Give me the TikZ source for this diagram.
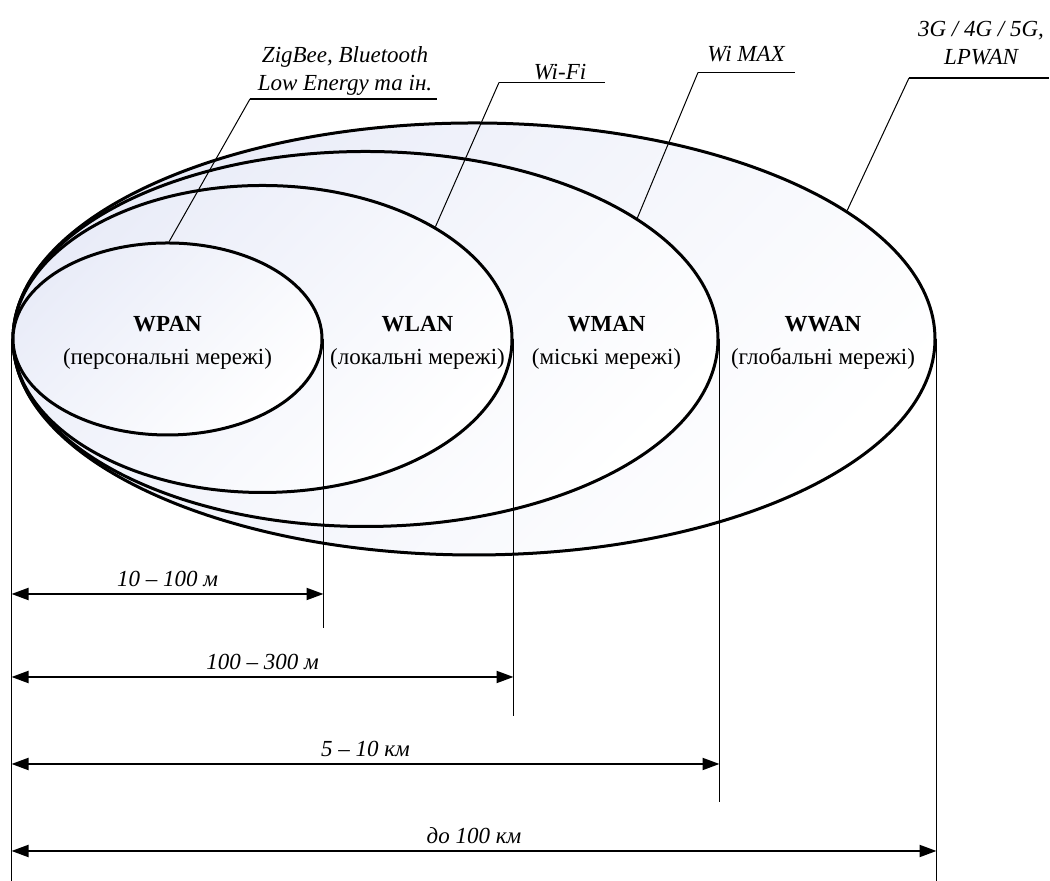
\documentclass[tikz,border=0pt]{standalone}
\usepackage{fontspec}
\setmainfont{Liberation Serif}
\usepackage{tikz}
\usetikzlibrary{arrows.meta,shapes.geometric}
\definecolor{zonefill}{RGB}{233,236,248}

\tikzset{
  zone/.style={ellipse, draw, line width=1.5pt, inner sep=0pt,
    top color=zonefill, bottom color=white, shading angle=45},
  netlbl/.style={align=center, font=\fontsize{11.5}{14}\selectfont},
  techlbl/.style={align=center, font=\fontsize{11.5}{14}\selectfont\itshape},
  leader/.style={line width=0.5pt},
  underl/.style={line width=0.8pt},
  extline/.style={line width=0.75pt},
  dimline/.style={line width=1pt,
    {Triangle[length=8.5pt,width=6pt]}-{Triangle[length=8.5pt,width=6pt]}},
  rangelbl/.style={font=\fontsize{11.5}{14}\selectfont\itshape}
}

\begin{document}
\begin{tikzpicture}[x=0.5pt,y=0.5pt]
  \useasboundingbox (0,0) rectangle (1050,881);

  %% zones, from the largest
  \node[zone, minimum width=461pt, minimum height=216pt] (wwan) at (474,542) {};
  \node[zone, minimum width=352.5pt, minimum height=187.5pt] (wman) at (365.5,542) {};
  \node[zone, minimum width=249.5pt, minimum height=153.5pt] (wlan) at (262.5,542) {};
  \node[zone, minimum width=154.5pt, minimum height=96pt] (wpan) at (167.5,542) {};

  %% network names
  \node[netlbl] (wpan-txt) at (167.5,538) {\textbf{WPAN}\\[2.5pt](персональні мережі)};
  \node[netlbl] (wlan-txt) at (417.5,538) {\textbf{WLAN}\\[2.5pt](локальні мережі)};
  \node[netlbl] (wman-txt) at (606.5,538) {\textbf{WMAN}\\[2.5pt](міські мережі)};
  \node[netlbl] (wwan-txt) at (823,538) {\textbf{WWAN}\\[2.5pt](глобальні мережі)};

  %% technologies with leaders
  \coordinate (zigbee-a) at (250,782);
  \coordinate (zigbee-b) at (437,782);
  \draw[underl] (zigbee-a) -- (zigbee-b);
  \node[techlbl] (zigbee) at (345,810) {ZigBee, Bluetooth\\Low Energy та ін.};
  \draw[leader] (zigbee-a) -- (wpan.89);

  \coordinate (wifi-a) at (499,798.5);
  \coordinate (wifi-b) at (605,798.5);
  \draw[underl] (wifi-a) -- (wifi-b);
  \node[techlbl] (wifi) at (560,809) {Wi-Fi};
  \draw[leader] (wifi-a) -- (wlan.33);

  \coordinate (wimax-a) at (698,808.5);
  \coordinate (wimax-b) at (795,808.5);
  \draw[underl] (wimax-a) -- (wimax-b);
  \node[techlbl] (wimax) at (746,827) {Wi MAX};
  \draw[leader] (wimax-a) -- (wman.24);

  \coordinate (cell-a) at (909,803);
  \coordinate (cell-b) at (1049,803);
  \draw[underl] (cell-a) -- (cell-b);
  \node[techlbl] (cell) at (981,838) {3G / 4G / 5G,\\LPWAN};
  \draw[leader] (cell-a) -- (wwan.19);

  %% ranges
  \coordinate (wwan-low) at (0,0);
  \draw[extline] (wwan.west) -- (wwan.west |- wwan-low);
  \foreach \net/\ylow/\ydim/\rng in {wpan/253/287/{10 – 100 м},
      wlan/165/204/{100 – 300 м}, wman/79/117/{5 – 10 км}, wwan/0/30/{до 100 км}}{
    \coordinate (\net-low) at (0,\ylow);
    \coordinate (\net-dim) at (0,\ydim);
    \draw[extline] (\net.east) -- (\net.east |- \net-low);
    \draw[dimline] (wwan.west |- \net-dim) -- (\net.east |- \net-dim)
      node[midway, above, rangelbl] {\rng};
  }
\end{tikzpicture}
\end{document}
